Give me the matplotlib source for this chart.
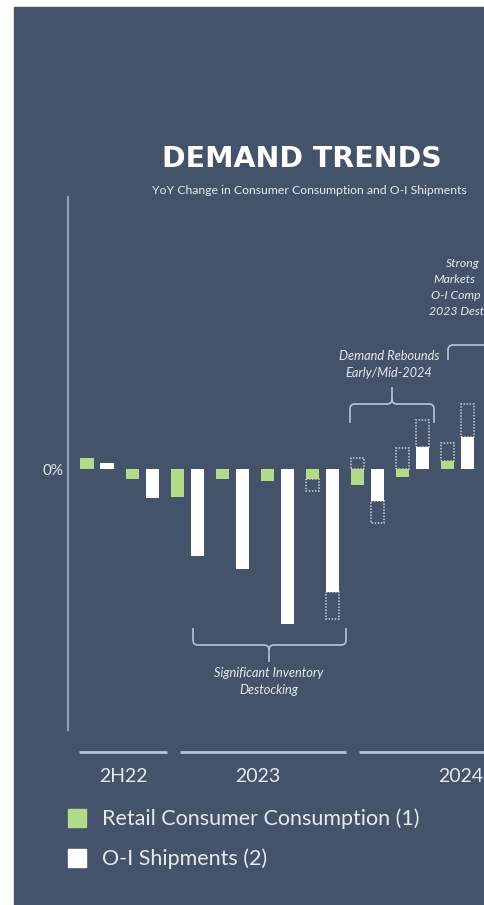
import numpy as np
import matplotlib.pyplot as plt
from matplotlib.patches import Rectangle, PathPatch
from matplotlib.path import Path

plt.rcParams['font.family'] = ['Lato', 'DejaVu Sans']

BG = '#44536a'
GREEN = '#b3d98a'
WHITE = '#ffffff'
AXIS = '#8d9cb4'
RULE = '#b9c3d3'
TEXT = '#e6e9ee'
DOT = '#c8ced8'

# YoY change (%), one group per half/quarter period
groups = np.arange(9)
retail = [1.1, -1.0, -2.8, -1.0, -1.15, -1.0, -1.6, -0.8, 0.8]
shipments = [0.6, -2.9, -8.7, -10.0, -15.5, -12.3, -3.2, 2.2, 3.2]
# dotted outline boxes (start, end); nan = no box
retail_box_lo = [np.nan] * 5 + [-1.0, 0.0, 0.0, 0.8]
retail_box_hi = [np.nan] * 5 + [-2.2, 1.1, 2.1, 2.6]
ship_box_lo = [np.nan] * 5 + [-12.3, -3.2, 2.2, 3.2]
ship_box_hi = [np.nan] * 5 + [-15.0, -5.4, 4.9, 6.5]

periods = ['2H22', '2023', '2024']
legend_labels = ['Retail Consumer Consumption (1)', 'O-I Shipments (2)']

W, H = 484, 905
fig = plt.figure(figsize=(W / 100, H / 100), dpi=100)
fig.patch.set_facecolor('white')

# overlay in pixel coordinates for background and annotations
ov = fig.add_axes([0, 0, 1, 1], zorder=0)
ov.set_xlim(0, W)
ov.set_ylim(H, 0)
ov.axis('off')
ov.add_patch(Rectangle((14, 7), W - 14, H - 7, color=BG, zorder=0))

# bar axes
ax = fig.add_axes([68 / W, 1 - 730 / H, (W - 68) / W, (730 - 197) / H], zorder=1)
ax.patch.set_alpha(0)
ax.set_xlim(-0.643, 8.581)
ax.set_ylim(-26.1, 27.2)
bw = 0.29
off = 0.222

rb = np.array(retail_box_hi) - np.array(retail_box_lo)
sb = np.array(ship_box_hi) - np.array(ship_box_lo)
ax.bar(groups - off, rb, bottom=retail_box_lo, width=bw, fill=False,
       edgecolor=DOT, linestyle=(0, (1, 1)), linewidth=1.1, zorder=2)
ax.bar(groups + off, sb, bottom=ship_box_lo, width=bw, fill=False,
       edgecolor=DOT, linestyle=(0, (1, 1)), linewidth=1.1, zorder=2)
ax.bar(groups - off, retail, width=bw, color=GREEN, zorder=3)
ax.bar(groups + off, shipments, width=bw, color=WHITE, zorder=3)

for s in ['top', 'right', 'bottom']:
    ax.spines[s].set_visible(False)
ax.spines['left'].set_color(AXIS)
ax.spines['left'].set_linewidth(1.6)
ax.set_xticks([])
ax.set_yticks([0])
ax.set_yticklabels(['0%'], color=TEXT, fontsize=11)
ax.tick_params(axis='y', length=0, pad=3)

# title
ov.text(302, 159, 'DEMAND TRENDS', ha='center', va='center', color='white',
        fontsize=20.5, fontweight='bold', family='DejaVu Sans')
ov.text(309, 191, 'YoY Change in Consumer Consumption and O-I Shipments',
        ha='center', va='center', color=TEXT, fontsize=8.8)


def brace(x0, x1, yend, ymid, ytip, xc=None, r=5):
    if xc is None:
        xc = (x0 + x1) / 2
    d = np.sign(ytip - yend)
    verts = [(x0, yend), (x0, ymid - d * r), (x0, ymid), (x0 + r, ymid),
             (xc - r, ymid), (xc, ymid), (xc, ymid + d * r), (xc, ytip),
             (xc, ymid + d * r), (xc, ymid), (xc + r, ymid),
             (x1 - r, ymid), (x1, ymid), (x1, ymid - d * r), (x1, yend)]
    codes = [Path.MOVETO, Path.LINETO, Path.CURVE3, Path.CURVE3,
             Path.LINETO, Path.CURVE3, Path.CURVE3, Path.LINETO,
             Path.MOVETO, Path.CURVE3, Path.CURVE3,
             Path.LINETO, Path.CURVE3, Path.CURVE3, Path.LINETO]
    ov.add_patch(PathPatch(Path(verts, codes), fill=False, edgecolor=RULE,
                           linewidth=1.2, zorder=2))


# bottom brace
brace(193, 346, 628, 645, 662, xc=269)
ov.text(269, 673, 'Significant Inventory', ha='center', va='center',
        color=TEXT, fontsize=9.2, style='italic')
ov.text(269, 690, 'Destocking', ha='center', va='center',
        color=TEXT, fontsize=9.2, style='italic')

# rebound brace
brace(350, 434, 423, 404, 387, xc=392)
ov.text(389, 356, 'Demand Rebounds', ha='center', va='center',
        color=TEXT, fontsize=9.2, style='italic')
ov.text(389, 373, 'Early/Mid-2024', ha='center', va='center',
        color=TEXT, fontsize=9.2, style='italic')

# strong markets brace (runs off the right edge)
brace(448, 640, 360, 345, 328, xc=560)
for txt, x, y in [('Strong', 446, 263), ('Markets', 433, 279),
                  ('O-I Comp', 431, 295), ('2023 Dest', 429, 311)]:
    ov.text(x, y, txt, ha='left', va='center', color=TEXT, fontsize=8.8,
            style='italic')

# period rules and labels
for (a, b), lab, xl, ha in zip([(79, 167), (180, 346), (359, 600)], periods,
                               [123, 258, 438], ['center', 'center', 'left']):
    ov.plot([a, b], [752, 752], color=RULE, linewidth=2, solid_capstyle='butt')
    ov.text(xl, 776, lab, ha=ha, va='center', color=TEXT, fontsize=14)

# legend
for (lab, col), y in zip(zip(legend_labels, [GREEN, WHITE]), [818, 858]):
    ov.add_patch(Rectangle((68, y - 9), 18, 18, color=col, zorder=2))
    ov.text(102, y + 1, lab, ha='left', va='center', color=TEXT, fontsize=15.5)

fig.savefig('out.png', dpi=100, facecolor=fig.get_facecolor())
